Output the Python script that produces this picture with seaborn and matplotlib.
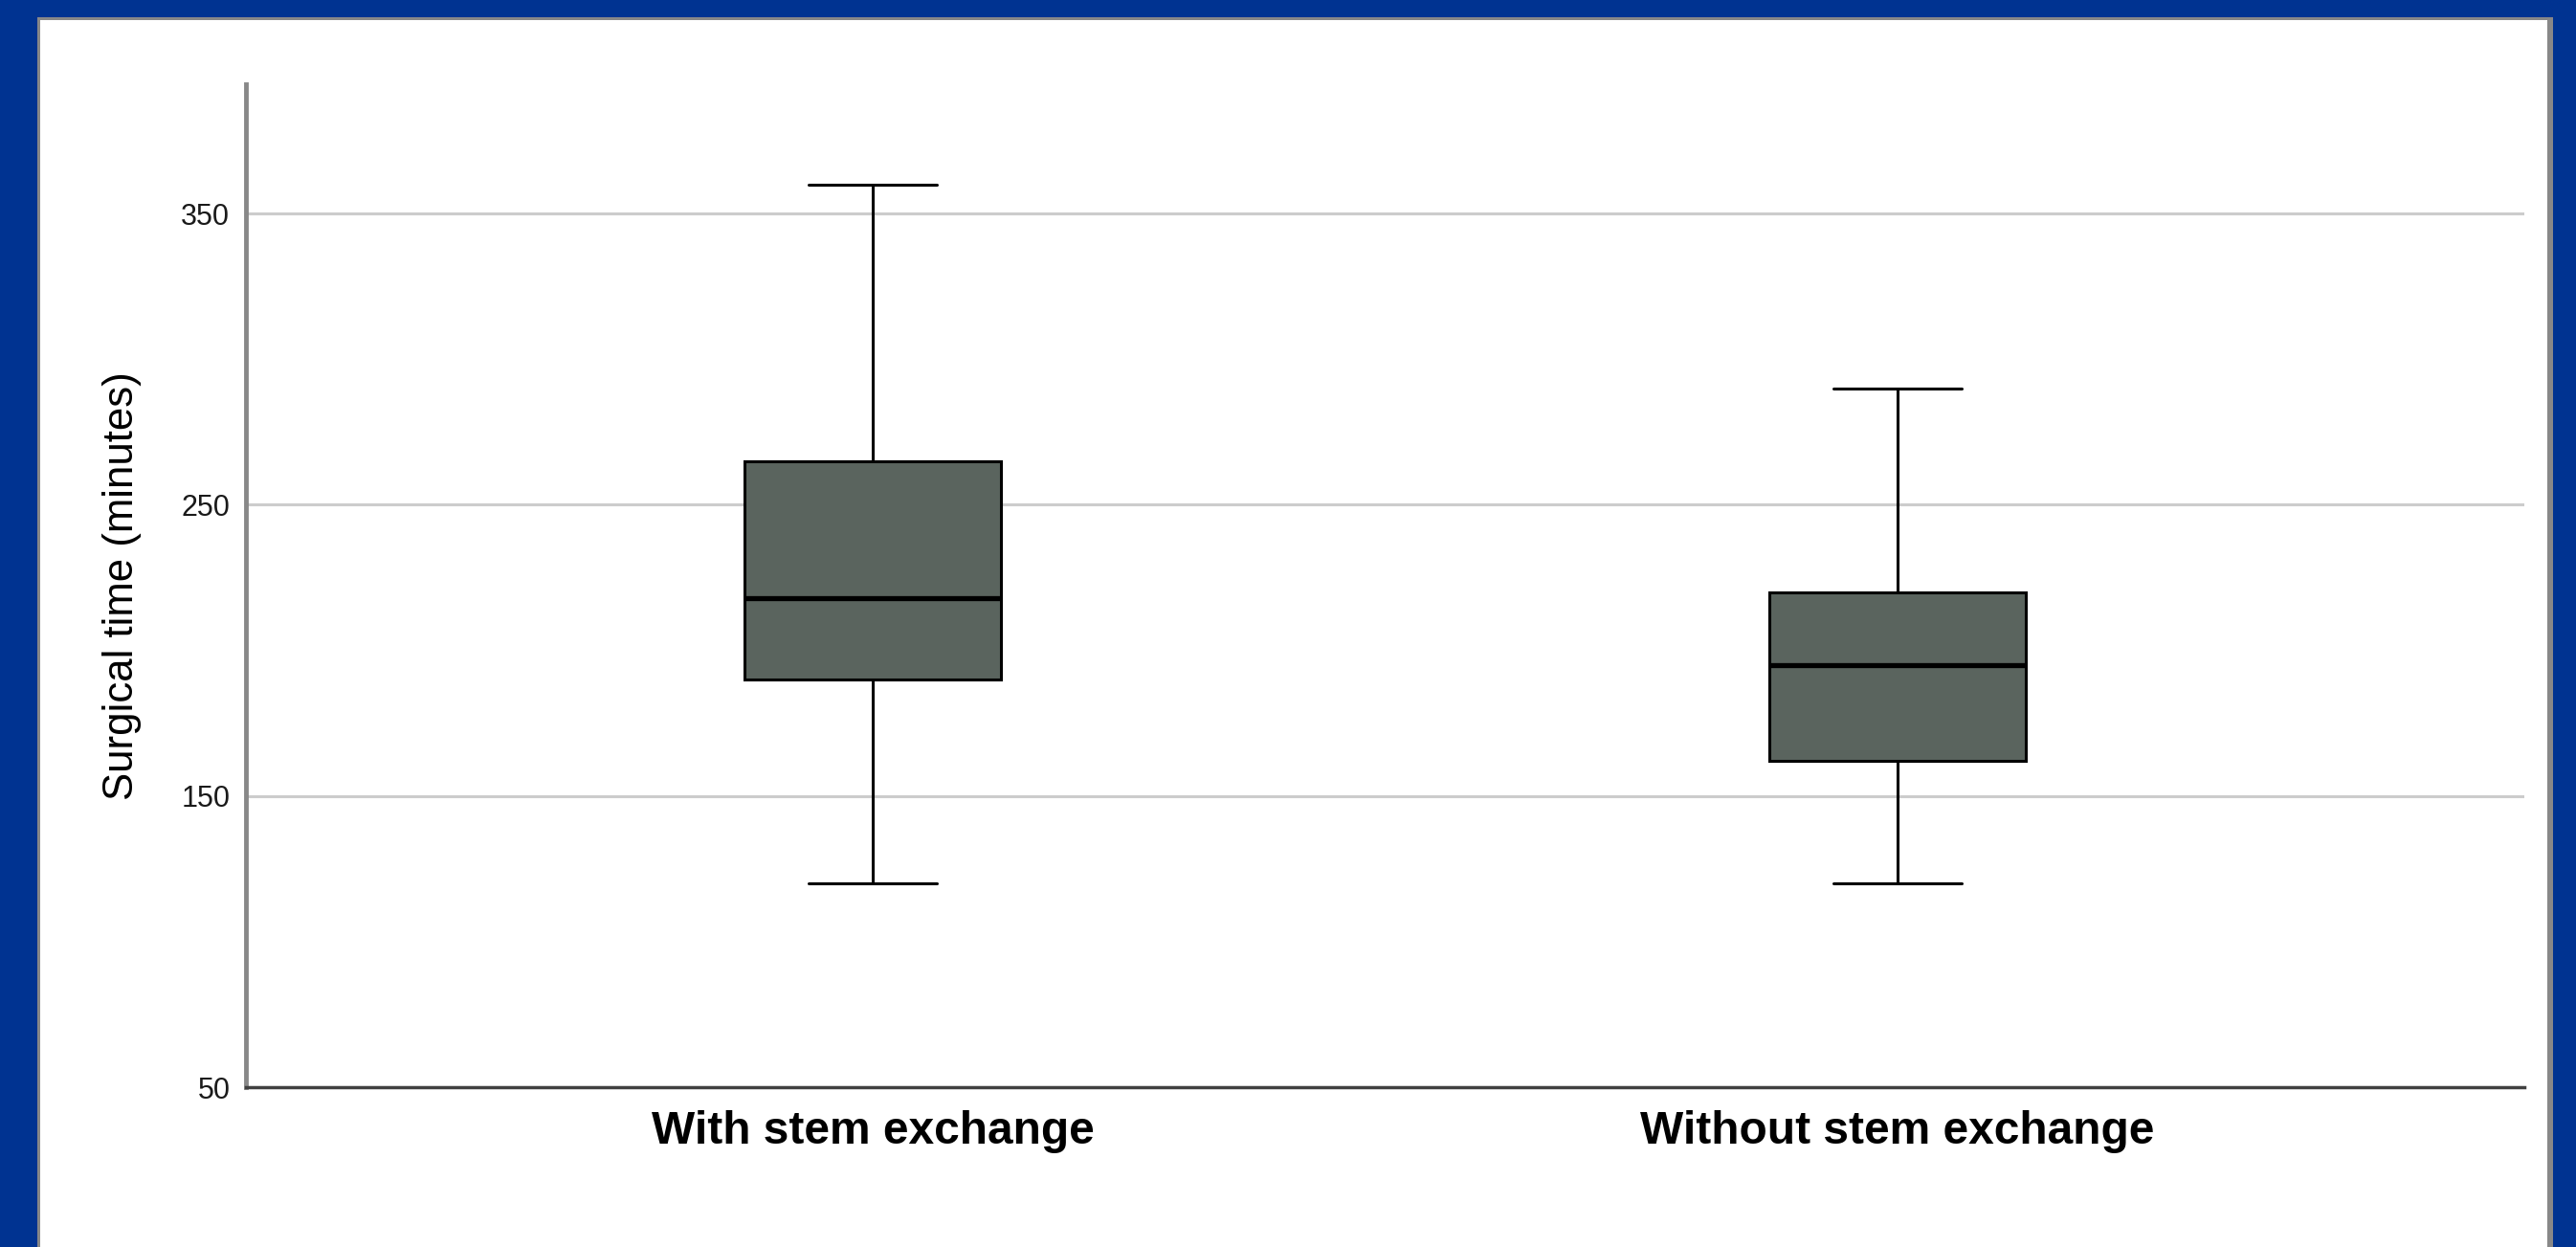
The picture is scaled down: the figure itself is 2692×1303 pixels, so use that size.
import matplotlib
matplotlib.use("Agg")
import matplotlib.pyplot as plt
import numpy as np
import pandas as pd
import seaborn as sns
from matplotlib.patches import Rectangle

# five-number summaries (min, Q1, median, Q3, max)
groups = ["With stem exchange", "Without stem exchange"]
with_stem = [120, 190, 218, 265, 360]
without_stem = [120, 162, 195, 220, 290]
y_ticks = [50, 150, 250, 350]

df = pd.DataFrame(
    {
        "group": [groups[0]] * len(with_stem) + [groups[1]] * len(without_stem),
        "time": with_stem + without_stem,
    }
)

sns.set_theme(style="white")
plt.rcParams["font.family"] = ["Liberation Sans", "DejaVu Sans"]

W, H = 2692, 1303
fig = plt.figure(figsize=(W / 100, H / 100), dpi=100)
fig.patch.set_facecolor("#003391")

# white panel with grey frame
fig.add_artist(Rectangle((39 / W, 0), (2668 - 39) / W, (H - 18) / H,
                         transform=fig.transFigure, facecolor="#888888", edgecolor="none", zorder=0))
fig.add_artist(Rectangle((42 / W, 0), (2662 - 42) / W, (H - 21) / H,
                         transform=fig.transFigure, facecolor="white", edgecolor="none", zorder=0))

ax = fig.add_axes([257 / W, 167 / H, (2638 - 257) / W, (1136 - 88) / H])
ax.set_facecolor("white")

sns.boxplot(
    data=df,
    x="group",
    y="time",
    color="#5a645e",
    saturation=1,
    width=0.251,
    whis=np.inf,
    linecolor="black",
    linewidth=2.2,
    medianprops={"linewidth": 3.8, "color": "black"},
    ax=ax,
    zorder=3,
)

ax.set_xlim(-0.6116, 1.6116)
ax.set_ylim(50, 394.4)
ax.set_yticks(y_ticks)
ax.yaxis.grid(True, color="#cccccc", linewidth=2.2)
ax.set_axisbelow(True)

for side in ["top", "right"]:
    ax.spines[side].set_visible(False)
ax.spines["left"].set_color("#888888")
ax.spines["left"].set_linewidth(3.5)
ax.spines["bottom"].set_color("#404040")
ax.spines["bottom"].set_linewidth(2.5)

ax.tick_params(axis="y", length=0, pad=12, labelsize=22, labelcolor="#1a1a1a")
ax.tick_params(axis="x", length=0, pad=17, labelsize=34.5)
for lbl in ax.get_xticklabels():
    lbl.set_fontweight("bold")
    lbl.set_color("black")

ax.set_xlabel("")
ax.set_ylabel("Surgical time (minutes)", fontsize=31.5, color="black", labelpad=30)

fig.savefig("out.png", dpi=100, facecolor=fig.get_facecolor())
